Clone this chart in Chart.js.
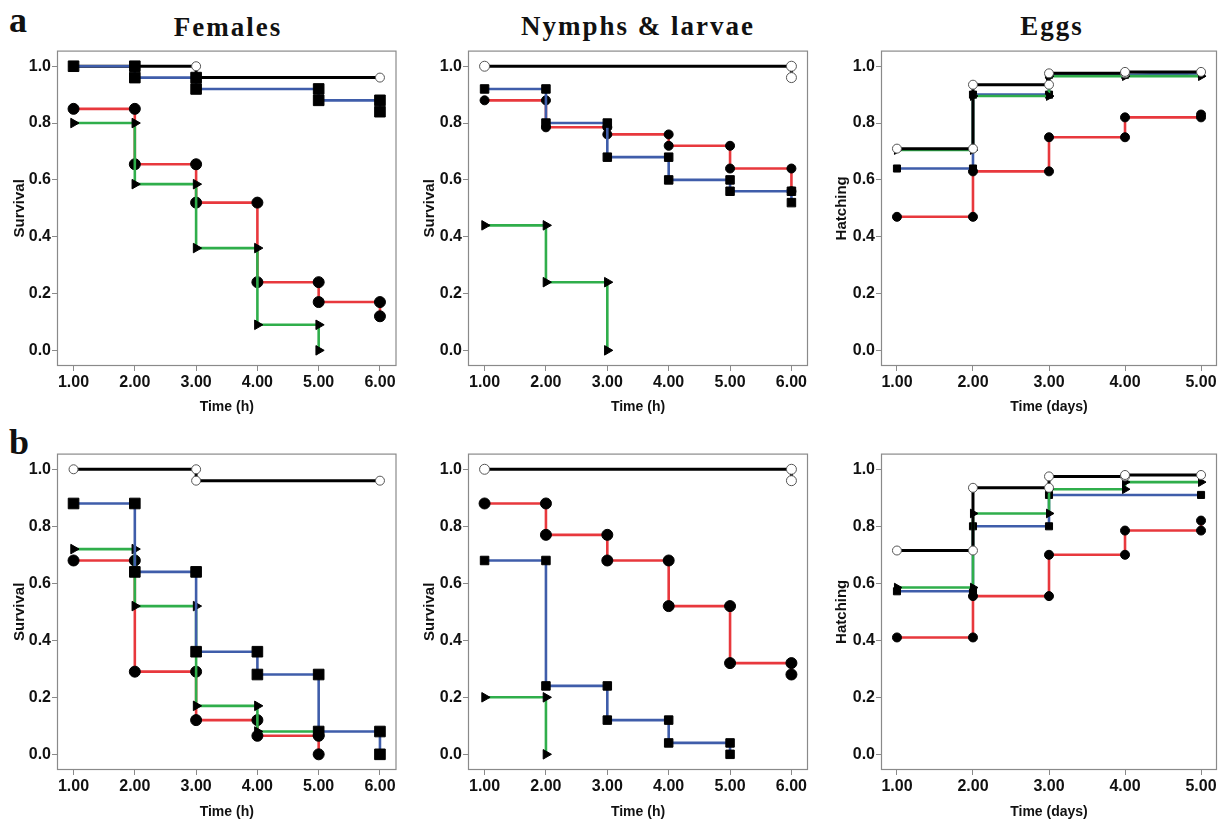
<!DOCTYPE html>
<html>
<head>
<meta charset="utf-8">
<script src="https://cdn.jsdelivr.net/npm/chart.js@4.4.0/dist/chart.umd.min.js"></script>
<style>
	body { margin: 0; background: #fff; width: 1223px; height: 821px; position: relative; overflow: hidden; }
	.panel { position: absolute; }
	.ttl { position: absolute; width: 400px; text-align: center; font-family: "Liberation Serif", "Times New Roman", serif; font-weight: bold; font-size: 27px; letter-spacing: 2px; line-height: 30px; color: #111; }
	.tag { position: absolute; font-family: "Liberation Serif", "Times New Roman", serif; font-weight: bold; font-size: 36px; line-height: 36px; color: #111; }
</style>
</head>
<body>
<div class="tag" style="left:9px;top:2px;">a</div>
<div class="tag" style="left:9px;top:424px;">b</div>
<div class="ttl" style="left:28px;top:12px;">Females</div>
<div class="ttl" style="left:438px;top:11px;">Nymphs &amp; larvae</div>
<div class="ttl" style="left:852px;top:11px;">Eggs</div>

<canvas id="a1" class="panel" width="405" height="378" style="left:0px;top:40px;"></canvas>
<canvas id="a2" class="panel" width="405" height="378" style="left:410px;top:40px;"></canvas>
<canvas id="a3" class="panel" width="401" height="378" style="left:822px;top:40px;"></canvas>
<canvas id="b1" class="panel" width="405" height="378" style="left:0px;top:443px;"></canvas>
<canvas id="b2" class="panel" width="405" height="378" style="left:410px;top:443px;"></canvas>
<canvas id="b3" class="panel" width="401" height="378" style="left:822px;top:443px;"></canvas>

<script>
// tick values
var hourTicks = [1, 2, 3, 4, 5, 6];
var dayTicks = [1, 2, 3, 4, 5];
var survTicks = [0, 0.2, 0.4, 0.6, 0.8, 1.0];

// (a) Females - [time, survival]
var aFemBlack = [[1, 1.0], [3, 1.0], [3, 0.96], [6, 0.96]];
var aFemBlue = [[1, 1.0], [2, 1.0], [2, 0.96], [3, 0.96], [3, 0.92], [5, 0.92], [5, 0.88], [6, 0.88], [6, 0.84]];
var aFemGreen = [[1, 0.80], [2, 0.80], [2, 0.585], [3, 0.585], [3, 0.36], [4, 0.36], [4, 0.09], [5, 0.09], [5, 0.0]];
var aFemRed = [[1, 0.85], [2, 0.85], [2, 0.655], [3, 0.655], [3, 0.52], [4, 0.52], [4, 0.24], [5, 0.24], [5, 0.17], [6, 0.17], [6, 0.12]];

// (a) Nymphs & larvae
var aNymBlack = [[1, 1.0], [6, 1.0], [6, 0.96]];
var aNymBlue = [[1, 0.92], [2, 0.92], [2, 0.80], [3, 0.80], [3, 0.68], [4, 0.68], [4, 0.60], [5, 0.60], [5, 0.56], [6, 0.56], [6, 0.52]];
var aNymGreen = [[1, 0.44], [2, 0.44], [2, 0.24], [3, 0.24], [3, 0.0]];
var aNymRed = [[1, 0.88], [2, 0.88], [2, 0.785], [3, 0.785], [3, 0.76], [4, 0.76], [4, 0.72], [5, 0.72], [5, 0.64], [6, 0.64], [6, 0.56]];

// (a) Eggs - [day, hatching]
var aEggBlack = [[1, 0.71], [2, 0.71], [2, 0.935], [3, 0.935], [3, 0.975], [4, 0.975], [4, 0.98], [5, 0.98]];
var aEggBlue = [[1, 0.64], [2, 0.64], [2, 0.90], [3, 0.90], [3, 0.97], [4, 0.97], [5, 0.975]];
var aEggGreen = [[1, 0.705], [2, 0.705], [2, 0.895], [3, 0.895], [3, 0.965], [4, 0.965], [5, 0.965]];
var aEggRed = [[1, 0.47], [2, 0.47], [2, 0.63], [3, 0.63], [3, 0.75], [4, 0.75], [4, 0.82], [5, 0.82], [5, 0.83]];

// (b) Females
var bFemBlack = [[1, 1.0], [3, 1.0], [3, 0.96], [6, 0.96]];
var bFemBlue = [[1, 0.88], [2, 0.88], [2, 0.64], [3, 0.64], [3, 0.36], [4, 0.36], [4, 0.28], [5, 0.28], [5, 0.08], [6, 0.08], [6, 0.0]];
var bFemGreen = [[1, 0.72], [2, 0.72], [2, 0.52], [3, 0.52], [3, 0.17], [4, 0.17], [4, 0.08], [5, 0.08]];
var bFemRed = [[1, 0.68], [2, 0.68], [2, 0.29], [3, 0.29], [3, 0.12], [4, 0.12], [4, 0.065], [5, 0.065], [5, 0.0]];

// (b) Nymphs & larvae
var bNymBlack = [[1, 1.0], [6, 1.0], [6, 0.96]];
var bNymBlue = [[1, 0.68], [2, 0.68], [2, 0.24], [3, 0.24], [3, 0.12], [4, 0.12], [4, 0.04], [5, 0.04], [5, 0.0]];
var bNymGreen = [[1, 0.20], [2, 0.20], [2, 0.0]];
var bNymRed = [[1, 0.88], [2, 0.88], [2, 0.77], [3, 0.77], [3, 0.68], [4, 0.68], [4, 0.52], [5, 0.52], [5, 0.32], [6, 0.32], [6, 0.28]];

// (b) Eggs
var bEggBlack = [[1, 0.715], [2, 0.715], [2, 0.935], [3, 0.935], [3, 0.975], [4, 0.975], [4, 0.98], [5, 0.98]];
var bEggBlue = [[1, 0.572], [2, 0.572], [2, 0.80], [3, 0.80], [3, 0.91], [5, 0.91]];
var bEggGreen = [[1, 0.585], [2, 0.585], [2, 0.845], [3, 0.845], [3, 0.93], [4, 0.93], [4, 0.955], [5, 0.955]];
var bEggRed = [[1, 0.41], [2, 0.41], [2, 0.555], [3, 0.555], [3, 0.70], [4, 0.70], [4, 0.785], [5, 0.785], [5, 0.82]];

var LINE = { black: "#000000", blue: "#3f5daa", green: "#2fae4b", red: "#e8383d" };
var TICK_FONT = { family: "'Liberation Sans', Arial, sans-serif", size: 16, weight: "bold" };
var TITLE_FONT = { family: "'Liberation Sans', Arial, sans-serif", size: 14, weight: "bold" };

// full grey box around the plot area
var boxPlugin = {
	id: "box",
	beforeDatasetsDraw: function (chart) {
		var a = chart.chartArea, c = chart.ctx;
		c.save();
		c.strokeStyle = "#8a8a8a";
		c.lineWidth = 1.2;
		c.strokeRect(a.left + 0.5, a.top + 0.5, a.right - a.left - 1, a.bottom - a.top - 1);
		c.restore();
	}
};

var makeSeries = function (name, pts, sz) {
	var ds = {
		label: name,
		data: pts.map(function (p) { return { x: p[0], y: p[1] }; }),
		showLine: true,
		borderColor: LINE[name],
		borderWidth: name === "black" ? 3 : 2.6,
		pointBorderWidth: 1,
		pointHoverRadius: 0,
		tension: 0,
	};
	if (name === "black") {
		ds.pointStyle = "circle";
		ds.pointRadius = sz.open;
		ds.pointBackgroundColor = "#ffffff";
		ds.pointBorderColor = "#555555";
	} else if (name === "blue") {
		ds.pointStyle = "rect";
		ds.pointRadius = sz.rect;
		ds.pointBackgroundColor = "#000";
		ds.pointBorderColor = "#000";
	} else if (name === "green") {
		ds.pointStyle = "triangle";
		ds.pointRotation = 90;
		ds.pointRadius = sz.tri;
		ds.pointBackgroundColor = "#000";
		ds.pointBorderColor = "#000";
	} else {
		ds.pointStyle = "circle";
		ds.pointRadius = sz.dot;
		ds.pointBackgroundColor = "#000";
		ds.pointBorderColor = "#000";
	}
	return ds;
};

var makePanel = function (id, series, opt) {
	var ctx = document.getElementById(id).getContext("2d");
	var isEgg = opt.egg;
	var xTicks = isEgg ? dayTicks : hourTicks;
	// first in list is drawn on top
	var datasets = opt.stack.map(function (nm) { return makeSeries(nm, series[nm], opt.size); });

	return new Chart(ctx, {
		type: "scatter",
		data: { datasets: datasets },
		options: {
			responsive: false,
			animation: false,
			events: [],
			layout: { padding: { top: 10, right: opt.padRight, left: 0, bottom: 0 } },
			plugins: { legend: { display: false }, tooltip: { enabled: false } },
			scales: {
				x: {
					type: "linear",
					min: isEgg ? 0.79 : 0.73,
					max: isEgg ? 5.21 : 6.27,
					afterBuildTicks: function (s) { s.ticks = xTicks.map(function (v) { return { value: v }; }); },
					afterFit: function (s) { s.height = opt.xh; },
					ticks: { font: TICK_FONT, color: "#111", padding: 2, maxRotation: 0, autoSkip: false,
						callback: function (v) { return Number(v).toFixed(2); } },
					grid: { drawOnChartArea: false, drawTicks: true, tickLength: 5, color: "#8a8a8a" },
					border: { display: false },
					title: { display: true, text: isEgg ? "Time (days)" : "Time (h)", font: TITLE_FONT, color: "#111", padding: { top: 0, bottom: opt.xtp } },
				},
				y: {
					type: "linear",
					min: -0.055,
					max: 1.055,
					afterBuildTicks: function (s) { s.ticks = survTicks.map(function (v) { return { value: v }; }); },
					afterFit: function (s) { s.width = opt.yw; },
					ticks: { font: TICK_FONT, color: "#111", padding: 1,
						callback: function (v) { return Number(v).toFixed(1); } },
					grid: { drawOnChartArea: false, drawTicks: true, tickLength: 5, color: "#8a8a8a" },
					border: { display: false },
					title: { display: true, text: isEgg ? "Hatching" : "Survival", font: { family: TITLE_FONT.family, size: 15, weight: "bold" }, color: "#111", padding: { top: 11, bottom: 0 } },
				},
			},
		},
		plugins: [boxPlugin],
	});
};

var bigMarks = { open: 4.5, rect: 7.5, tri: 5.5, dot: 5.5 };
var midMarks = { open: 5, rect: 6, tri: 5.5, dot: 4.5 };
var eggMarks = { open: 4.5, rect: 5, tri: 5, dot: 4.5 };

makePanel("a1", { black: aFemBlack, blue: aFemBlue, green: aFemGreen, red: aFemRed },
	{ stack: ["blue", "black", "green", "red"], size: bigMarks, yw: 57, padRight: 7, xh: 52, xtp: 2 });
makePanel("a2", { black: aNymBlack, blue: aNymBlue, green: aNymGreen, red: aNymRed },
	{ stack: ["black", "blue", "red", "green"], size: midMarks, yw: 58, padRight: 5, xh: 52, xtp: 2 });
makePanel("a3", { black: aEggBlack, blue: aEggBlue, green: aEggGreen, red: aEggRed },
	{ egg: true, stack: ["black", "green", "blue", "red"], size: eggMarks, yw: 59, padRight: 2, xh: 52, xtp: 2 });
makePanel("b1", { black: bFemBlack, blue: bFemBlue, green: bFemGreen, red: bFemRed },
	{ stack: ["black", "blue", "green", "red"], size: bigMarks, yw: 57, padRight: 7, xh: 51, xtp: 0 });
makePanel("b2", { black: bNymBlack, blue: bNymBlue, green: bNymGreen, red: bNymRed },
	{ stack: ["black", "red", "blue", "green"], size: { open: 5, rect: 6, tri: 5.5, dot: 5.5 }, yw: 58, padRight: 5, xh: 51, xtp: 0 });
makePanel("b3", { black: bEggBlack, blue: bEggBlue, green: bEggGreen, red: bEggRed },
	{ egg: true, stack: ["black", "green", "blue", "red"], size: eggMarks, yw: 59, padRight: 2, xh: 51, xtp: 0 });
</script>
</body>
</html>
